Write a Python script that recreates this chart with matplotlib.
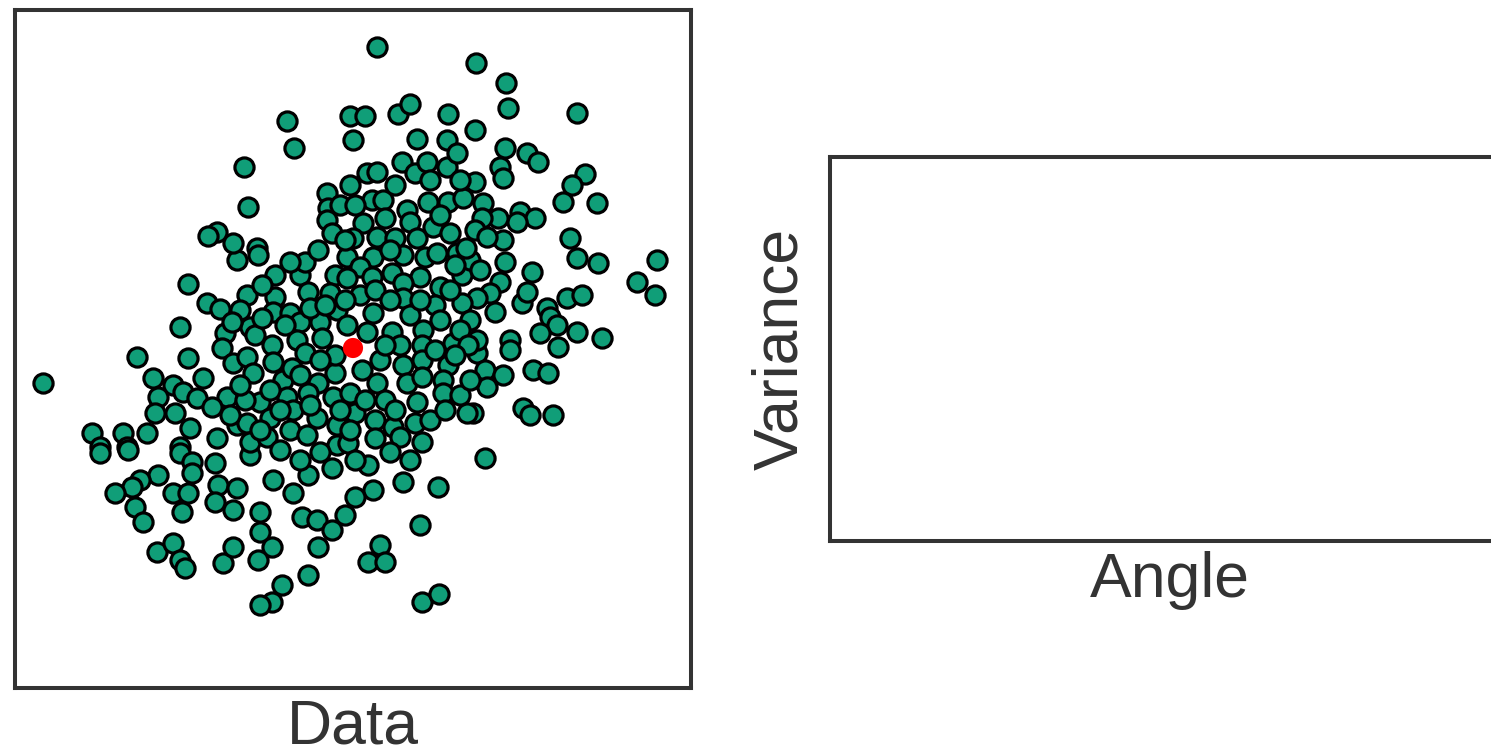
import matplotlib
matplotlib.use("Agg")
import matplotlib.pyplot as plt

# Scatter data (centred so that the red mean point is ~0,0)
x_vals = [
    0.23, 1.22, 1.52, 1.54, 2.23, -0.67, -0.60, -0.04, 0.11, 0.44,
    0.56, 0.94, 0.93, 0.63, -0.01, 0.48, 0.61, 0.73, 0.93, 1.03,
    0.13, 0.23, -0.04, -0.27, -0.26, 0.18, 0.29, 0.53, 0.74, 0.94,
    1.09, -0.27, 0.09, 0.31, 0.56, 0.79, 0.96, -0.22, -0.01, 0.23,
    0.41, 0.63, -1.10, -1.06, -0.97, 1.21, 1.51, 1.73, 1.84, 1.46,
    1.49, 1.21, 2.31, 2.18, 2.09, 2.43, 1.29, 1.66, 1.81, 1.63,
    1.44, 1.28, 1.21, 1.49, 1.33, 2.16, -1.66, -1.47, -1.34, -1.17,
    -1.74, -2.17, -1.66, -3.11, -2.01, -1.29, -1.32, -1.21, -1.51, -1.81,
    -1.71, -1.96, -1.27, -1.57, -1.99, -1.79, -1.42, -1.17, -1.64, -2.62,
    -2.31, -2.07, -1.37, -2.54, -2.27, -1.74, 2.23, 2.44, 3.03, 2.83,
    3.01, 2.13, 2.28, 1.78, 1.51, 1.46, 1.36, 1.23, 1.41, 1.68,
    1.73, 1.93, 1.96, 2.03, 1.86, 2.04, 2.23, 2.48, 1.56, 1.56,
    1.23, 1.23, 1.31, 1.49, 1.33, 1.79, 1.94, 1.69, 1.76, 1.99,
    1.19, -1.04, -0.81, -0.61, -0.46, -0.22, 0.14, 0.19, 0.01, -0.09,
    0.49, 0.84, 0.66, -0.52, -0.37, -0.22, -0.36, -0.94, -0.94, -0.82,
    -0.96, 0.26, 0.14, 0.31, -0.46, -0.72, -0.82, -0.94, 0.68, 0.85,
    -2.54, -2.26, -1.96, -2.14, -2.22, -2.39, -2.19, -2.11, -1.81, -1.66,
    -1.72, -1.74, -1.62, -1.62, -1.39, -1.36, -1.39, -1.21, -1.17, -1.97,
    -1.81, -1.74, -1.69, -1.31, -1.21, 1.31, -0.96, -0.07, 0.19, 0.06,
    0.49, 0.71, 0.83, 1.03, -0.54, -0.19, -0.07, 0.18, 0.38, 0.66,
    0.49, 0.86, 1.08, -1.07, -0.79, -0.46, -0.24, 0.06, 0.21, 0.49,
    0.81, 1.08, -1.04, -0.99, -0.81, -0.64, -0.54, -0.34, -0.17, -0.07,
    0.19, 0.13, 0.38, 0.56, 0.69, 0.86, 0.99, 0.68, -0.82, -0.57,
    -0.32, -0.49, -0.81, -1.07, 0.26, 0.49, 0.68, 0.94, -0.19, 0.08,
    -1.01, -0.71, -0.62, -0.36, 0.23, 0.53, 0.68, 0.89, -0.94, -0.67,
    -0.46, -0.21, -0.04, 0.31, 0.63, 0.89, -1.09, -1.07, -0.84, -0.61,
    -0.37, -0.17, 0.01, 0.21, 0.39, 0.61, 1.13, -0.64, -0.47, -0.17,
    -0.06, 0.21, 0.46, 0.68, -1.04, -0.87, -1.37, -1.21, -1.46,
    # denser core
    -0.49, -0.36, -0.64, -0.79, -0.92, -1.14, -1.22, -0.92, -0.69, -0.44,
    -0.29, -0.09, 0.36, 0.66, 0.96, 1.16, 1.12, 1.01, 1.26, 1.16,
    1.06, 1.14, 1.01, 0.81, 0.46, 0.31, -0.19, -0.34, -0.54, -0.84,
    -1.14, -1.24, -0.94, -0.74, -0.54, -0.34, 0.01, 0.36, 0.56, 0.76,
    0.91, 1.06, 1.16, 0.11, -0.14, -0.44, -0.04, 0.41, -0.74, -0.09,
    0.36, -0.14, 0.41, 0.76, 1.06, 0.86, 0.01,
]
y_vals = [
    3.01, 2.85, 2.65, 2.40, 2.35, 2.27, 2.00, 2.32, 2.32, 2.34,
    2.44, 2.34, 2.08, 2.09, 2.08, 1.86, 1.75, 1.86, 1.81, 1.95,
    1.75, 1.76, 1.63, 1.55, 1.40, 1.48, 1.48, 1.38, 1.46, 1.46,
    1.50, 1.28, 1.25, 1.30, 1.26, 1.21, 1.15, 1.15, 1.10, 1.11,
    1.10, 1.10, 1.81, 1.41, 1.00, 2.18, 2.00, 1.95, 1.86, 1.81,
    1.70, 1.66, 1.74, 1.63, 1.46, 1.45, 1.45, 1.36, 1.30, 1.26,
    1.30, 1.30, 1.18, 1.08, 1.11, 1.10, 0.64, 0.45, 0.39, 0.88,
    0.21, -0.09, -0.10, -0.35, -0.30, 0.15, 0.00, -0.15, -0.30, -0.37,
    -0.44, -0.49, -0.49, -0.50, -0.65, -0.65, -0.59, -0.77, -0.80, -0.85,
    -0.85, -0.85, -0.90, -0.99, -0.99, -0.99, 0.90, 0.85, 0.88, 0.66,
    0.53, 0.50, 0.53, 0.76, 0.86, 0.66, 0.55, 0.50, 0.36, 0.45,
    0.56, 0.40, 0.31, 0.23, 0.15, 0.01, 0.16, 0.10, 0.08, -0.02,
    -0.05, 0.08, -0.22, -0.27, -0.39, -0.22, -0.25, -0.60, -0.67, -0.67,
    -0.65, -1.07, -1.32, -1.45, -1.27, -1.20, -1.17, -1.42, -1.49, -1.67,
    -1.34, -1.39, -1.77, -1.69, -1.72, -1.82, -1.99, -1.64, -1.84, -1.99,
    -2.12, -1.97, -2.14, -2.14, -2.27, -2.37, -2.54, -2.57, -2.54, -2.46,
    -1.05, -1.02, -1.27, -1.32, -1.39, -1.45, -1.59, -1.74, -1.45, -1.45,
    -1.64, -1.05, -1.14, -1.25, -1.15, -1.37, -1.54, -1.62, -1.40, -2.04,
    -1.95, -2.12, -2.20, -2.15, -1.99, -1.10, 0.93, 0.91, 0.91, 0.81,
    0.93, 0.91, 0.95, 0.95, 0.73, 0.73, 0.70, 0.71, 0.75, 0.71,
    0.65, 0.61, 0.73, 0.53, 0.51, 0.56, 0.55, 0.53, 0.58, 0.50,
    0.43, 0.45, 0.21, 0.13, 0.36, 0.35, 0.26, 0.26, 0.38, 0.23,
    0.35, 0.16, 0.16, 0.33, 0.18, 0.28, 0.05, 0.03, 0.03, 0.08,
    0.10, -0.05, -0.14, -0.09, -0.12, -0.17, -0.12, -0.17, -0.25, -0.22,
    -0.25, -0.32, -0.20, -0.35, -0.35, -0.35, -0.29, -0.32, -0.54, -0.49,
    -0.45, -0.49, -0.45, -0.52, -0.54, -0.45, -0.52, -0.75, -0.70, -0.62,
    -0.70, -0.77, -0.65, -0.72, -0.79, -0.75, -0.65, -0.82, -0.87, -0.97,
    -0.95, -0.90, -0.89, -0.94, -0.94, -0.89, 1.16, 1.05, 1.12,
    # denser core
    0.86, 0.98, 0.86, 0.73, 0.63, 0.38, 0.26, 0.30, 0.23, 0.40,
    0.43, 0.48, 0.48, 0.48, 0.58, 0.88, 1.00, 0.83, 0.78, 0.28,
    0.18, 0.03, -0.07, -0.02, 0.03, 0.03, -0.07, -0.12, -0.27, -0.42,
    -0.37, -0.67, -0.82, -1.02, -1.12, -1.04, -1.12, -1.04, -1.12, -0.72,
    -0.62, -0.47, -0.32, -0.52, -0.62, -0.57, -0.82, -0.62, -0.62, 1.08,
    0.98, 1.43, 1.63, 1.68, 1.68, 1.33, 1.43,
]
mean_x = [-0.01]
mean_y = [0.00]

x_label_left = "Data"
x_label_right = "Angle"
y_label_right = "Variance"

DARK = "#333333"
GREEN = "#109e78"

fig = plt.figure(figsize=(14.91, 7.51), dpi=100)
fig.patch.set_facecolor("white")

ax1 = fig.add_axes([15 / 1491, 63 / 751, 676 / 1491, 678 / 751])
ax2 = fig.add_axes([830 / 1491, 210 / 751, 680 / 1491, 384 / 751])

ax1.scatter(x_vals, y_vals, s=190, c=GREEN, edgecolors="black", linewidths=2.3, zorder=2)
ax1.scatter(mean_x, mean_y, s=210, c="red", edgecolors="none", zorder=3)
ax1.set_xlim(-3.39, 3.37)
ax1.set_ylim(-3.40, 3.38)

for ax in (ax1, ax2):
    ax.set_xticks([])
    ax.set_yticks([])
    for sp in ax.spines.values():
        sp.set_color(DARK)
        sp.set_linewidth(2.9)

font = dict(family=["Liberation Sans", "DejaVu Sans"], size=45, color=DARK)
ax1.set_xlabel(x_label_left, labelpad=7, **font)
ax2.set_xlabel(x_label_right, labelpad=7, **font)
ax2.set_ylabel(y_label_right, labelpad=14, **font)

fig.savefig("out.png", dpi=100, facecolor="white")
